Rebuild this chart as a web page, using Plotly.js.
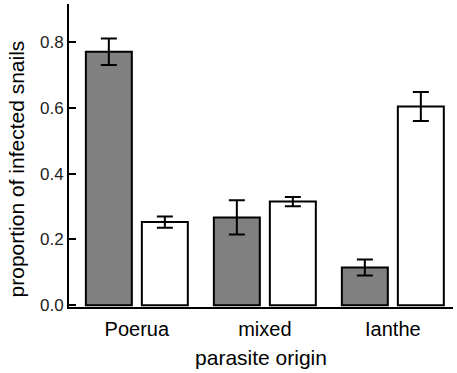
<!DOCTYPE html>
<html><head><meta charset="utf-8">
<script src="https://cdn.plot.ly/plotly-3.0.1.min.js"></script>
<style>html,body{margin:0;padding:0;background:#fff}#chart{width:457px;height:373px}</style>
</head><body><div id="chart"></div>
<script>
var categories = ["Poerua", "mixed", "Ianthe"];
var grayValues = [0.770, 0.267, 0.115];
var grayErrors = [0.040, 0.052, 0.024];
var whiteValues = [0.253, 0.315, 0.604];
var whiteErrors = [0.017, 0.014, 0.044];
var yTicks = [0.0, 0.2, 0.4, 0.6, 0.8];
var yTickLabels = ["0.0", "0.2", "0.4", "0.6", "0.8"];
var yTitle = "proportion of infected snails";
var xTitle = "parasite origin";

var err = function(a){return {type:'data', array:a, visible:true, color:'#000', thickness:2, width:8};};
var traces = [
  {type:'bar', x:categories, y:grayValues, error_y:err(grayErrors),
   marker:{color:'#808080', line:{color:'#000', width:2}}, hoverinfo:'skip'},
  {type:'bar', x:categories, y:whiteValues, error_y:err(whiteErrors),
   marker:{color:'#ffffff', line:{color:'#000', width:2}}, hoverinfo:'skip'}
];
var layout = {
  width:457, height:373,
  margin:{l:69, r:4, t:4, b:66},
  paper_bgcolor:'#fff', plot_bgcolor:'#fff',
  showlegend:false,
  barmode:'group', bargap:0.125, bargroupgap:0.179,
  font:{family:'Liberation Sans, Arial, sans-serif', color:'#000'},
  xaxis:{range:[-0.53, 2.47], showline:true, linecolor:'#000', linewidth:2,
    ticks:'', showgrid:false, zeroline:false, ticklabelstandoff:3,
    tickfont:{size:20, color:'#000'},
    title:{text:xTitle, font:{size:21, color:'#000'}, standoff:11}},
  yaxis:{range:[-0.005, 0.915], showline:true, linecolor:'#000', linewidth:2,
    ticks:'inside', ticklen:7, tickwidth:2, tickcolor:'#000',
    tickvals:yTicks, ticktext:yTickLabels, showgrid:false, zeroline:false,
    tickfont:{size:17, color:'#222'}},
  annotations:[{text:yTitle, textangle:-90, showarrow:false,
    xref:'paper', yref:'paper', x:-0.138, y:0.454, xanchor:'center', yanchor:'middle',
    font:{size:21, color:'#000'}}]
};
Plotly.newPlot('chart', traces, layout, {staticPlot:true, displayModeBar:false});
</script></body></html>
